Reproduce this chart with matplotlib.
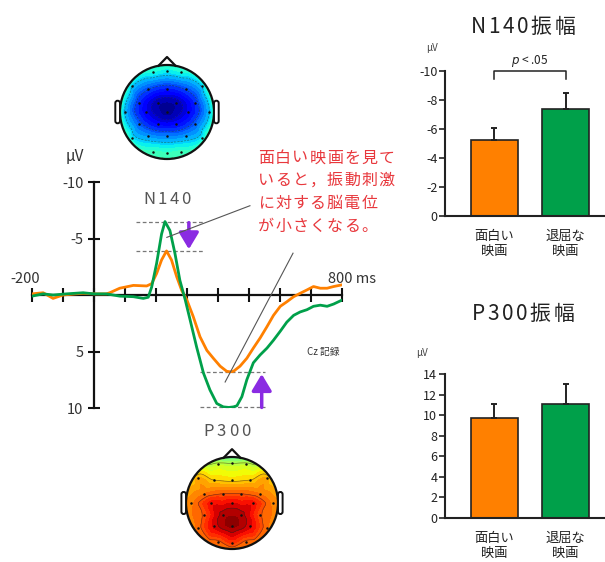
import numpy as np
import matplotlib
matplotlib.use('Agg')
import matplotlib.pyplot as plt
import matplotlib.tri as mtri
from matplotlib.patches import Circle, FancyBboxPatch

plt.rcParams['font.family'] = ['Noto Sans CJK JP', 'DejaVu Sans']
plt.rcParams['axes.unicode_minus'] = False

# ---------------- data ----------------
t_orange = [-200, -164, -132, -100, -60, -35, 0, 40, 51, 83, 127, 170, 186, 202, 218, 234, 250,
            267, 283, 299, 320, 342, 364, 385, 407, 428, 440, 450, 471, 493, 514, 536, 558, 579,
            601, 622, 644, 665, 687, 708, 730, 752, 773, 800]
v_orange = [-0.1, -0.2, 0.3, 0.0, -0.1, -0.15, -0.1, -0.1, -0.2, -0.6, -0.85, -0.8, -1.0, -1.9,
            -3.1, -3.9, -3.1, -1.6, -0.4, 0.4, 1.9, 3.7, 4.9, 5.6, 6.3, 6.75, 6.8, 6.75, 6.3, 5.6,
            4.7, 3.8, 2.8, 1.8, 1.0, 0.6, 0.15, -0.15, -0.45, -0.75, -0.6, -0.6, -0.75, -0.9]
t_green = [-200, -164, -132, -89, -35, 0, 40, 83, 127, 159, 175, 186, 202, 218, 229, 245, 261,
           277, 294, 310, 331, 353, 374, 396, 417, 435, 450, 461, 477, 493, 514, 536, 558, 579,
           601, 622, 644, 665, 687, 708, 730, 752, 773, 800]
v_green = [0.1, -0.1, 0.0, -0.1, -0.2, -0.1, -0.1, 0.1, 0.15, 0.3, 0.2, -0.7, -2.8, -5.4, -6.5,
           -5.7, -3.7, -1.3, 0.4, 2.2, 4.6, 6.9, 8.4, 9.6, 9.9, 9.95, 9.9, 9.8, 9.0, 7.5, 6.0,
           5.3, 4.7, 4.0, 3.2, 2.4, 1.8, 1.5, 1.3, 1.0, 0.9, 1.0, 0.8, 0.45]

bar_categories = ['面白い\n映画', '退屈な\n映画']
n140_means = [-5.25, -7.4]
n140_errs = [0.8, 1.1]
p300_means = [9.7, 11.1]
p300_errs = [1.4, 1.9]
n140_ticks = [0, -2, -4, -6, -8, -10]
p300_ticks = [0, 2, 4, 6, 8, 10, 12, 14]
erp_yticks = [-10, -5, 5, 10]
erp_xticks = list(range(-200, 801, 100))

# electrode layout (unit head) and values for scalp maps
elec_x = [-0.3, 0.0, 0.3,
          -0.75, -0.4, 0.0, 0.4, 0.75,
          -0.6, -0.2, 0.2, 0.6,
          -0.9, -0.45, 0.0, 0.45, 0.9,
          -0.6, -0.2, 0.2, 0.6,
          -0.75, -0.4, 0.0, 0.4, 0.75,
          -0.3, 0.0, 0.3]
elec_y = [0.85, 0.88, 0.85,
          0.55, 0.5, 0.5, 0.5, 0.55,
          0.2, 0.2, 0.2, 0.2,
          0.0, 0.0, 0.0, 0.0, 0.0,
          -0.25, -0.25, -0.25, -0.25,
          -0.55, -0.5, -0.5, -0.5, -0.55,
          -0.85, -0.88, -0.85]
n140_map = [-2.0, -2.2, -2.0,
            -2.8, -4.8, -5.6, -4.8, -2.8,
            -5.4, -7.3, -7.3, -5.4,
            -3.0, -6.4, -7.8, -6.4, -3.0,
            -4.6, -6.2, -6.2, -4.6,
            -2.4, -3.8, -4.2, -3.8, -2.4,
            -1.3, -1.4, -1.3]
n140_rim = [-1.2, -1.2, -1.4, -1.6, -1.4, -1.2, -1.2, -1.0, -0.9, -0.9, -0.9, -1.0]
p300_map = [1.2, 0.8, 1.2,
            3.5, 3.0, 2.8, 3.0, 3.5,
            4.5, 5.0, 5.0, 4.5,
            4.3, 6.2, 6.5, 6.2, 4.3,
            5.2, 7.2, 7.2, 5.2,
            4.6, 6.6, 7.6, 6.6, 4.6,
            4.8, 5.5, 4.8]
p300_rim = [4.0, 2.8, 0.5, -1.5, 0.5, 2.8, 4.0, 4.2, 4.4, 4.5, 4.4, 4.2]
rim_angles = list(range(0, 360, 30))

ORANGE = '#ff8000'
GREEN = '#00a04a'
PURPLE = '#8a2be2'
RED = '#e8383d'
TXT = '#333333'

# ---------------- figure ----------------
W, H = 605, 562
fig = plt.figure(figsize=(W / 100, H / 100), dpi=100)
renderer = fig.canvas.get_renderer()


def fx(x):
    return x / W


def fy(y):
    return 1 - y / H


def rect(x0, y0, x1, y1):
    return [x0 / W, 1 - y1 / H, (x1 - x0) / W, (y1 - y0) / H]


def spaced_text(x, y, s, size, spacing, color, ha='center', **kw):
    widths = []
    for ch in s:
        t = fig.text(0, 0, ch, fontsize=size, **kw)
        widths.append(t.get_window_extent(renderer).width)
        t.remove()
    total = sum(widths) + spacing * (len(s) - 1)
    x0 = x - total / 2 if ha == 'center' else x
    for ch, w in zip(s, widths):
        fig.text(fx(x0), fy(y), ch, fontsize=size, color=color, ha='left', va='center', **kw)
        x0 += w + spacing


# ---------------- ERP waveform ----------------
ax = fig.add_axes(rect(32, 182, 342, 408))
ax.set_xlim(-200, 800)
ax.set_ylim(10, -10)
ax.patch.set_alpha(0)
for s in ['top', 'right']:
    ax.spines[s].set_visible(False)
ax.spines['left'].set_position(('data', 0))
ax.spines['bottom'].set_position(('data', 0))
for s in ['left', 'bottom']:
    ax.spines[s].set_linewidth(1.6)
    ax.spines[s].set_color('#111')
ax.set_xticks(erp_xticks)
ax.set_xticklabels([])
ax.set_yticks(erp_yticks)
ax.set_yticklabels([str(v) for v in erp_yticks], fontsize=10.5, color=TXT)
ax.tick_params(axis='x', direction='inout', length=10, width=1.5, color='#111')
ax.tick_params(axis='y', direction='inout', length=9, width=1.5, color='#111', pad=3)

ax.plot(t_orange, v_orange, color=ORANGE, lw=2.0, solid_joinstyle='round', zorder=3)
ax.plot(t_green, v_green, color=GREEN, lw=2.0, solid_joinstyle='round', zorder=4)

dash = dict(color='#777777', lw=0.9, ls=(0, (3, 2)), clip_on=False, zorder=2)
ax.plot([137, 353], [min(v_green)] * 2, **dash)
ax.plot([137, 353], [min(v_orange)] * 2, **dash)
ax.plot([342, 552], [max(v_orange)] * 2, **dash)
ax.plot([342, 552], [max(v_green)] * 2, **dash)

ax.annotate('', xy=(306, min(v_orange) - 0.15), xytext=(306, min(v_green) + 0.1),
            arrowprops=dict(arrowstyle='-|>,head_length=0.5,head_width=0.3', color=PURPLE,
                            lw=2.5, mutation_scale=20, shrinkA=0, shrinkB=0))
ax.annotate('', xy=(541, max(v_orange) + 0.2), xytext=(541, max(v_green)),
            arrowprops=dict(arrowstyle='-|>,head_length=0.5,head_width=0.3', color=PURPLE,
                            lw=2.5, mutation_scale=20, shrinkA=0, shrinkB=0),
            annotation_clip=False)

ax.plot([235, 503], [-5.1, -7.9], color='#555', lw=0.8, clip_on=False, zorder=5)
ax.plot([423, 642], [7.7, -3.7], color='#555', lw=0.8, clip_on=False, zorder=5)

fig.text(fx(75), fy(157), 'μV', fontsize=11, color=TXT, ha='center', va='center')
fig.text(fx(25), fy(279), '-200', fontsize=10.5, color=TXT, ha='center', va='center')
fig.text(fx(328), fy(279), '800 ms', fontsize=10.5, color=TXT, ha='left', va='center')
fig.text(fx(323), fy(352), 'Cz 記録', fontsize=7, color=TXT, ha='center', va='center')
spaced_text(167, 199, 'N140', 12, 2.5, '#555555')
spaced_text(227, 432, 'P300', 12, 2.8, '#555555')

red_lines = ['面白い映画を見て', 'いると，振動刺激', 'に対する脳電位', 'が小さくなる。']
for i, line in enumerate(red_lines):
    spaced_text(258, 158 + i * 22.7, line, 11.5, 1.2, RED, ha='left')


# ---------------- scalp maps ----------------
def topomap(cx, cy, r, vals, rim):
    size = r * 2.8
    tax = fig.add_axes(rect(cx - size / 2, cy - size / 2, cx + size / 2, cy + size / 2))
    tax.set_xlim(-1.4, 1.4)
    tax.set_ylim(-1.4, 1.4)
    tax.axis('off')
    ang = np.deg2rad(rim_angles)
    xs = np.concatenate([elec_x, 1.03 * np.cos(ang)])
    ys = np.concatenate([elec_y, 1.03 * np.sin(ang)])
    zs = np.concatenate([vals, rim]).astype(float)
    tri = mtri.Triangulation(xs, ys)
    refiner = mtri.UniformTriRefiner(tri)
    interp = mtri.CubicTriInterpolator(tri, zs, kind='geom')
    tri_f, z_f = refiner.refine_field(zs, triinterpolator=interp, subdiv=4)
    clip = Circle((0, 0), 1.0, transform=tax.transData)
    cf = tax.tricontourf(tri_f, z_f, levels=np.linspace(-8, 8, 33), cmap='jet', extend='both')
    cf.set_clip_path(clip)
    cl = tax.tricontour(tri_f, z_f, levels=np.arange(-7, 8, 2), colors='#222',
                        linewidths=0.45, alpha=0.6)
    cl.set_clip_path(clip)
    tax.plot(elec_x, elec_y, 'o', color='#111', ms=1.8, mew=0)
    tax.add_patch(Circle((0, 0), 1.0, fill=False, ec='#111', lw=1.6))
    tax.plot([-0.18, 0, 0.18], [0.985, 1.17, 0.985], color='#111', lw=1.6,
             solid_joinstyle='round')
    for sx in (1.0, -1.1):
        tax.add_patch(FancyBboxPatch((sx, -0.24), 0.1, 0.48,
                                     boxstyle='round,pad=0,rounding_size=0.05',
                                     fc='white', ec='#111', lw=1.4))


topomap(167, 112, 47, n140_map, n140_rim)
topomap(232, 503, 46, p300_map, p300_rim)


# ---------------- bar charts ----------------
def bar_panel(box, means, errs, ylim, ticks, neg):
    bax = fig.add_axes(rect(*box))
    x = np.arange(len(means))
    bax.bar(x, means, width=0.662, color=[ORANGE, GREEN], edgecolor='#222', linewidth=1.2,
            zorder=2)
    zeros = [0] * len(errs)
    yerr = [errs, zeros] if neg else [zeros, errs]
    bax.errorbar(x, means, yerr=yerr, fmt='none', ecolor='#222', elinewidth=1.4, capsize=2.5,
                 capthick=1.4, zorder=3)
    bax.set_xlim(-0.697, 1.556)
    bax.set_ylim(*ylim)
    bax.set_yticks(ticks)
    bax.set_yticklabels([str(t) for t in ticks], fontsize=9, color='#222')
    bax.set_xticks(x)
    bax.set_xticklabels(bar_categories, fontsize=9.5, color='#222', linespacing=1.2)
    bax.tick_params(axis='x', length=0, pad=10)
    bax.tick_params(axis='y', length=4, width=1.2, color='#222', pad=1.5)
    for s in ['top', 'right']:
        bax.spines[s].set_visible(False)
    for s in ['left', 'bottom']:
        bax.spines[s].set_linewidth(1.5)
        bax.spines[s].set_color('#222')
    bax.patch.set_alpha(0)
    return bax


nax = bar_panel((445, 71, 605, 216), n140_means, n140_errs, (0, -10), n140_ticks, True)
nax.plot([0, 0, 1, 1], [-9.45, -10, -10, -9.45], color='#222', lw=1.1, clip_on=False)
fig.text(fx(530), fy(61), '$p$ < .05', fontsize=8.5, color='#222', ha='center', va='center')
fig.text(fx(432), fy(48), 'μV', fontsize=7, color='#444', ha='center', va='center')
spaced_text(523, 27, 'N140振幅', 15, 2.5, '#222222')

pax = bar_panel((445, 374, 605, 518), p300_means, p300_errs, (0, 14), p300_ticks, False)
fig.text(fx(422), fy(353), 'μV', fontsize=7, color='#444', ha='center', va='center')
spaced_text(523, 314, 'P300振幅', 15, 2.5, '#222222')

fig.savefig('out.png', dpi=100)
